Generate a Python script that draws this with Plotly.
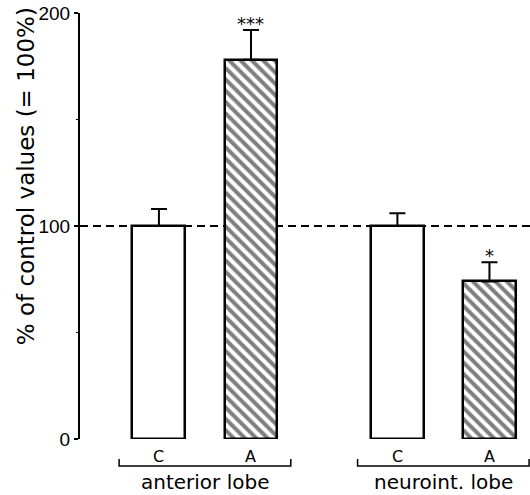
import plotly.graph_objects as go

# --- data -------------------------------------------------------------
groups = ["anterior lobe", "neuroint. lobe"]
conditions = ["C", "A"]
control_vals = [100, 100]      # % of control
treated_vals = [178, 74]
control_err = [8, 6]
treated_err = [14, 9]
significance = ["***", "*"]
y_ticks = [0, 100, 200]
y_minor_ticks = [50, 150]
reference_level = 100

# --- geometry (axis units) -------------------------------------------
group_pos = [0.0, 1.0]
bar_offset = 0.193
bar_width = 0.222
bracket_half = 0.36
x_range = [-0.524, 1.363]

FONT = "DejaVu Sans"
NUM_FONT = "Liberation Sans"
INK = "black"

def x_to_paper(x):
    return (x - x_range[0]) / (x_range[1] - x_range[0])

ctrl_x = [g - bar_offset for g in group_pos]
trt_x = [g + bar_offset for g in group_pos]

fig = go.Figure()

fig.add_trace(go.Bar(
    x=ctrl_x, y=control_vals, width=bar_width,
    marker=dict(color="white", line=dict(color=INK, width=2.5)),
    error_y=dict(type="data", array=control_err, arrayminus=[0, 0],
                 symmetric=False, color=INK, thickness=2, width=8),
    showlegend=False,
))
fig.add_trace(go.Bar(
    x=trt_x, y=treated_vals, width=bar_width,
    marker=dict(color="white", line=dict(color=INK, width=2.5),
                pattern=dict(shape="\\", fgcolor=INK, bgcolor="white",
                             size=8, solidity=0.5)),
    error_y=dict(type="data", array=treated_err, arrayminus=[0, 0],
                 symmetric=False, color=INK, thickness=2, width=8),
    showlegend=False,
))

# dashed 100 % reference line, behind the bars
fig.add_shape(type="line", xref="paper", yref="y", x0=0, x1=1,
              y0=reference_level, y1=reference_level, layer="below",
              line=dict(color=INK, width=2, dash="8px,5px"))

annotations = []
# significance stars above the error bars
for x, v, e, s in zip(trt_x, treated_vals, treated_err, significance):
    annotations.append(dict(x=x, y=v + e, xref="x", yref="y", text=s,
                            showarrow=False, yanchor="middle", yshift=7,
                            font=dict(family=FONT, size=18, color=INK)))

# condition letters under each bar
for g in group_pos:
    for x, lab in zip([g - bar_offset, g + bar_offset], conditions):
        annotations.append(dict(x=x, y=-0.04, xref="x", yref="paper", text=lab,
                                showarrow=False, xanchor="center",
                                yanchor="middle",
                                font=dict(family=FONT, size=16, color=INK)))

# group brackets and names
shapes = []
for g, name in zip(group_pos, groups):
    xl = x_to_paper(g - bracket_half)
    xr = min(x_to_paper(g + bracket_half), 0.998)
    yb, yt = -0.0634, -0.047
    shapes.append(dict(type="path", xref="paper", yref="paper",
                       path=f"M {xl},{yt} L {xl},{yb} L {xr},{yb} L {xr},{yt}",
                       line=dict(color=INK, width=1.5)))
    annotations.append(dict(x=g, y=-0.1, xref="x", yref="paper", text=name,
                            showarrow=False, xanchor="center",
                            yanchor="middle",
                            font=dict(family=FONT, size=20, color=INK)))

# y axis title
annotations.append(dict(x=-0.12, y=0.617, xref="paper", yref="paper",
                        text="% of control values (= 100%)", textangle=-90,
                        showarrow=False, xanchor="center", yanchor="middle",
                        font=dict(family=FONT, size=23, color=INK)))

fig.update_layout(
    width=530, height=495,
    margin=dict(l=80, r=0, t=13, b=56),
    paper_bgcolor="white", plot_bgcolor="white",
    bargap=0, barmode="overlay",
    annotations=annotations,
    shapes=fig.layout.shapes + tuple(shapes),
    font=dict(family=FONT, color=INK),
)
fig.update_xaxes(range=x_range, visible=False, showgrid=False, zeroline=False)
fig.update_yaxes(range=[0, 200], tickvals=y_ticks, ticks="outside", ticklen=4,
                 tickwidth=2, tickcolor=INK, showline=True, linecolor=INK,
                 linewidth=2, showgrid=False, zeroline=False,
                 tickfont=dict(family=NUM_FONT, size=19, color=INK),
                 minor=dict(tickvals=y_minor_ticks, ticks="outside", ticklen=2,
                            tickwidth=1, tickcolor=INK))

fig.write_html("out.html")
